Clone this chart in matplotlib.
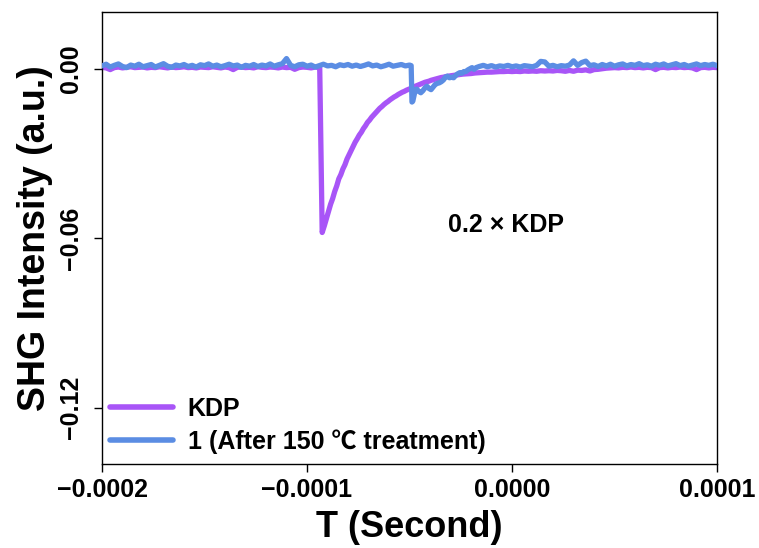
import numpy as np
import matplotlib
matplotlib.use("Agg")
import matplotlib.pyplot as plt
from matplotlib.ticker import FuncFormatter, FixedLocator

plt.rcParams['font.family'] = ['Liberation Sans', 'Noto Sans CJK SC', 'DejaVu Sans']
plt.rcParams['font.weight'] = 'bold'

# ---- KDP reference trace (time in microseconds, signal in units of 1e-3 a.u.) ----
kdp_pre_t = np.arange(-200, -93, 2)
kdp_pre_v = [0.5, 0.3, -0.3, 0.4, 0.6, 0.3, 0.5, 0.7, 0.4, 0.5,
             0.6, 0.3, 0.5, 0.4, 0.7, 0.5, 0.3, 0.6, 0.4, 0.5,
             0.7, 0.4, 0.5, 0.3, 0.6, 0.5, 0.4, 0.7, 0.5, 0.3,
             0.6, 0.4, -0.3, 0.5, 0.6, 0.4, 0.5, 0.3, 0.7, 0.5,
             0.4, 0.6, 0.5, 0.3, 0.6, 0.4, 0.5, -0.2, 0.4, 0.6,
             0.5, 0.3, 0.6, 0.4]

kdp_decay_t = [-93.8, -92.6, -91.5, -90.5, -89.5, -88.5, -87.5, -86.5, -85.5, -84.5,
               -83.5, -82.5, -81.5, -80.5, -79.5, -78.5, -77.5, -76.5, -75.5, -74.5,
               -73.5, -72.5, -71.5, -70.5, -69.5, -68.5, -67.5, -66.5, -65.5, -64.5,
               -63.5, -62.5, -61.5, -60.5, -59.5, -58.5, -57.5, -56.5, -55.5, -54.5,
               -53.5, -52.5, -51.5, -50.5, -49.5, -48.5, -47.5, -46.5, -45.5, -44.5,
               -43.5, -42.5, -41.5, -40.5, -39.5, -38.5, -37.5, -36.5, -35.5, -34.5,
               -33.5, -32.5, -31.5, -30, -28, -26, -24, -22, -20, -18,
               -16, -14, -12, -10, -8, -6, -4, -2]
kdp_decay_v = [0.3, -58.0, -55.5, -53.0, -50.5, -48.0, -46.0, -43.5, -41.5, -39.0,
               -37.5, -35.5, -34.0, -32.0, -30.5, -29.0, -27.5, -26.0, -24.8, -23.5,
               -22.5, -21.2, -20.2, -19.0, -18.2, -17.2, -16.4, -15.6, -14.8, -14.0,
               -13.4, -12.7, -12.1, -11.6, -11.0, -10.5, -10.0, -9.6, -9.1, -8.7,
               -8.3, -8.0, -7.6, -7.3, -7.0, -6.6, -6.3, -6.0, -5.7, -5.4,
               -5.1, -4.8, -4.6, -4.4, -4.1, -3.9, -3.7, -3.5, -3.3, -3.1,
               -3.0, -2.8, -2.7, -2.5, -2.3, -2.1, -1.9, -1.8, -1.7, -1.5,
               -1.4, -1.3, -1.2, -1.2, -1.1, -1.0, -1.0, -0.9]

kdp_tail_t = np.arange(0, 101, 2)
kdp_tail_v = [-1.0, -0.9, -1.0, -0.8, -0.9, -0.8, -0.9, -0.7, -0.8, -0.7,
              -0.8, -0.6, -0.7, -0.9, -0.6, -0.9, -0.5, -0.6, -0.4, -0.8,
              -0.3, -0.2, 0.0, 0.2, 0.3, 0.4, 0.3, 0.5, 0.4, 0.6,
              0.4, 0.5, 0.3, 0.5, 0.4, -0.3, 0.4, 0.5, 0.3, 0.5,
              0.4, 0.6, 0.4, 0.5, 0.3, -0.3, 0.4, 0.5, 0.3, 0.5,
              0.4]

# ---- sample 1 after 150 C treatment ----
s1_pre_t = np.arange(-200, -49, 2)
s1_pre_v = [1.0, 1.6, 0.6, 1.2, 1.7, 0.8, 0.4, 1.3, 0.9, 1.6,
            0.7, 1.1, 1.5, 0.6, 1.2, 1.8, 0.9, 0.5, 1.3, 1.0,
            1.5, 0.8, 1.2, 0.6, 1.4, 1.1, 1.7, 0.9, 1.3, 0.7,
            1.1, 1.6, 1.0, 1.3, 0.5, 1.2, 0.9, 1.5, 0.8, 1.3,
            1.0, 1.7, 0.9, 1.4, 1.8, 3.6, 1.2, 0.7, 1.4, 1.6,
            0.9, 1.3, 0.6, 1.1, 1.6, 1.0, 1.2, 0.7, 1.4, 1.1,
            1.5, 0.9, 1.3, 0.8, 1.2, 1.7, 1.0, 1.3, 0.7, 1.1,
            1.6, 0.9, 1.2, 1.5, 1.0, 1.3]

s1_drop_t = [-49.2, -48.8, -48.4, -47.8, -47.2, -46.5, -45.5, -44.5, -43.5, -42.5,
             -41.5, -40.5, -39.5, -38.5, -37.5, -36.5, -35.5, -34.5, -33.5, -32.5,
             -31.5, -30.5, -29.5, -28.5, -27.5, -26.5, -25.5, -24.5, -23.5, -22.5,
             -21.5, -20.5, -19.5, -18.5, -17.5]
s1_drop_v = [1.1, -11.8, -11.5, -9.5, -7.5, -7.2, -8.0, -8.5, -7.8, -6.8,
             -6.2, -7.0, -7.4, -6.5, -5.6, -5.2, -5.0, -4.6, -4.0, -3.0,
             -2.6, -3.2, -3.0, -3.2, -2.4, -1.8, -1.4, -1.6, -1.0, -1.0,
             -0.4, 0.0, 0.4, -0.2, 0.4]

s1_tail_t = np.arange(-16, 101, 2)
s1_tail_v = [0.8, 1.2, 0.7, 1.1, 0.6, 1.0, 0.8, 1.2, 0.7, 1.0,
             0.6, 1.1, 0.9, 0.7, 1.2, 2.6, 2.4, 0.9, 1.2, 0.7,
             1.1, 0.9, 1.3, 2.8, 1.2, 2.2, 2.7, 1.1, 1.4, 0.8,
             1.5, 1.0, 1.6, 0.9, 1.4, 1.7, 1.0, 1.5, 1.2, 1.8,
             1.1, 1.4, 0.9, 1.6, 1.2, 1.7, 1.0, 1.4, 1.8, 1.1,
             1.5, 0.9, 1.3, 1.7, 1.1, 1.5, 1.2, 1.6, 1.1]

series_labels = ['KDP', '1 (After 150 \u2103 treatment)']
series_colors = ['#A855F7', '#5B8DE3']
x_ticks = [-0.0002, -0.0001, 0.0, 0.0001]
y_ticks = [0.0, -0.06, -0.12]

kdp_t = np.concatenate([kdp_pre_t, kdp_decay_t, kdp_tail_t]) * 1e-6
kdp_v = np.concatenate([kdp_pre_v, kdp_decay_v, kdp_tail_v]) * 1e-3
s1_t = np.concatenate([s1_pre_t, s1_drop_t, s1_tail_t]) * 1e-6
s1_v = np.concatenate([s1_pre_v, s1_drop_v, s1_tail_v]) * 1e-3

fig = plt.figure(figsize=(7.59, 5.48), dpi=100)
ax = fig.add_axes([0.1344, 0.1533, 0.8103, 0.8243])

ax.plot(kdp_t, kdp_v, color=series_colors[0], lw=3.8, label=series_labels[0],
        solid_joinstyle='round', solid_capstyle='round', zorder=2)
ax.plot(s1_t, s1_v, color=series_colors[1], lw=3.8, label=series_labels[1],
        solid_joinstyle='round', solid_capstyle='round', zorder=3)

ax.set_xlim(-0.0002, 0.0001)
ax.set_ylim(-0.14, 0.02)


def minus_fmt(decimals):
    def f(v, pos):
        if abs(v) < 1e-12:
            v = 0.0
        return f"{v:.{decimals}f}".replace('-', '\u2212')
    return FuncFormatter(f)


ax.xaxis.set_major_locator(FixedLocator(x_ticks))
ax.yaxis.set_major_locator(FixedLocator(y_ticks))
ax.xaxis.set_major_formatter(minus_fmt(4))
ax.yaxis.set_major_formatter(minus_fmt(2))

ax.tick_params(axis='both', direction='out', length=6, width=1.0, labelsize=18)
ax.tick_params(axis='x', pad=4)
ax.tick_params(axis='y', pad=8)
for lab in ax.get_yticklabels():
    lab.set_rotation(90)
    lab.set_va('center')
for lab in ax.get_xticklabels() + ax.get_yticklabels():
    lab.set_fontweight('bold')

for sp in ax.spines.values():
    sp.set_linewidth(1.0)

ax.set_xlabel('T (Second)', fontsize=26, fontweight='bold', labelpad=6)
ax.set_ylabel('SHG Intensity (a.u.)', fontsize=27, fontweight='bold', labelpad=4)

ax.text(-2.9e-6, -0.0552, '0.2 \u00d7 KDP', fontsize=18, fontweight='bold',
        ha='center', va='center')

leg = ax.legend(loc='lower left', bbox_to_anchor=(0.013, 0.022), frameon=False,
                fontsize=18, handlelength=2.5, handletextpad=0.6,
                labelspacing=0.35, borderpad=0.0, borderaxespad=0.0)
for txt in leg.get_texts():
    txt.set_fontweight('bold')
for line in leg.get_lines():
    line.set_linewidth(4.0)

fig.savefig('out.png', dpi=100, facecolor='white')
